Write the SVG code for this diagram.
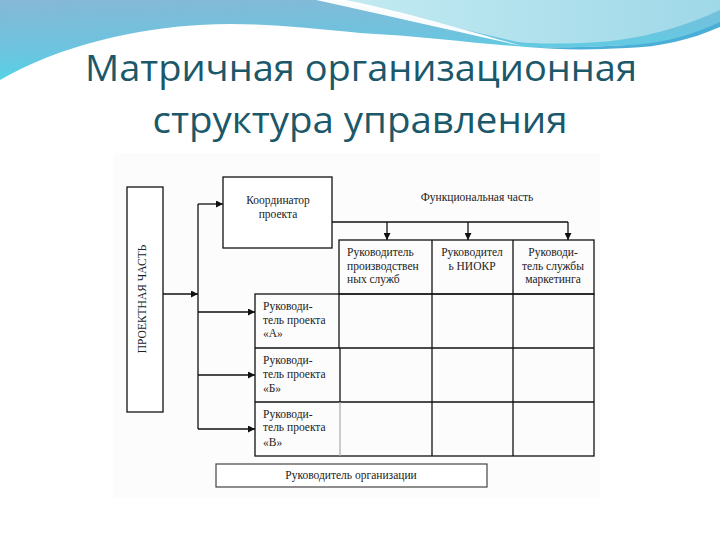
<svg xmlns="http://www.w3.org/2000/svg" width="720" height="540" viewBox="0 0 720 540">
  <defs>
    <linearGradient id="gBlue" x1="0" y1="0" x2="0.3" y2="1">
      <stop offset="0" stop-color="#86b8d6"/>
      <stop offset="0.6" stop-color="#6cc4df"/>
      <stop offset="1" stop-color="#4fd6e8"/>
    </linearGradient>
    <linearGradient id="gLight" x1="0" y1="0" x2="1" y2="0">
      <stop offset="0" stop-color="#c4ebf2"/>
      <stop offset="1" stop-color="#9fd8e8"/>
    </linearGradient>
    <marker id="arr" viewBox="0 0 8 8" refX="8" refY="4" markerWidth="7" markerHeight="7" markerUnits="userSpaceOnUse" orient="auto">
      <path d="M0,0 L8,4 L0,8 Z" fill="#111"/>
    </marker>
    <style>
      .title { font-family: "Open Sans", "Noto Sans", sans-serif; font-size: 37px; fill: #1b5869; text-anchor: middle; }
      .box { fill: #fff; stroke: #111; stroke-width: 1.3; }
      .grid { fill: none; stroke: #111; stroke-width: 1.3; }
      .conn { fill: none; stroke: #111; stroke-width: 1.3; }
      .t { font-family: "Liberation Serif", "Times New Roman", serif; font-size: 11.5px; fill: #222; }
      .c { text-anchor: middle; }
    </style>
  </defs>

  <rect width="720" height="540" fill="#ffffff"/>

  <!-- decorative wave -->
  <g id="decoration">
    <path d="M0,0 H720 V25 C690,38 660,45 627,45 C590,47 560,48 527,47 C480,44 420,36 360,33 C300,27 250,22 200,25 C140,28 60,45 0,80 Z" fill="url(#gBlue)"/>
    <path d="M330,0 H720 V10 C690,24 650,38 600,42 C565,44 535,44 518,42 C455,28 395,12 330,0 Z" fill="url(#gLight)"/>
    <path d="M316,0 C380,14 450,30 522,46 C452,26 392,9 346,0 Z" fill="#ffffff" opacity="0.95"/>
    <path d="M527,47 C560,48 590,47 627,45 C660,44 690,36 720,22 V27 C690,40 660,47 627,48 C590,50 560,50 527,47 Z" fill="#4aaed6"/>
  </g>

  <rect x="113" y="153" width="487" height="345" fill="#fcfcfc"/>

  <g id="title">
    <text class="title" x="361" y="81" textLength="552" lengthAdjust="spacingAndGlyphs">Матричная организационная</text>
    <text class="title" x="360" y="133" textLength="415" lengthAdjust="spacingAndGlyphs">структура управления</text>
  </g>

  <g id="connectors">
    <line class="conn" x1="198" y1="204" x2="198" y2="429"/>
    <line class="conn" x1="163" y1="294" x2="198" y2="294" marker-end="url(#arr)"/>
    <line class="conn" x1="198" y1="204" x2="223" y2="204" marker-end="url(#arr)"/>
    <line class="conn" x1="198" y1="312" x2="255" y2="312" marker-end="url(#arr)"/>
    <line class="conn" x1="198" y1="375" x2="255" y2="375" marker-end="url(#arr)"/>
    <line class="conn" x1="198" y1="429" x2="255" y2="429" marker-end="url(#arr)"/>
    <line class="conn" x1="332" y1="222" x2="568" y2="222"/>
    <line class="conn" x1="387" y1="222" x2="387" y2="240" marker-end="url(#arr)"/>
    <line class="conn" x1="468" y1="222" x2="468" y2="240" marker-end="url(#arr)"/>
    <line class="conn" x1="568" y1="222" x2="568" y2="240" marker-end="url(#arr)"/>
  </g>

  <g id="project-part">
    <rect class="box" x="127" y="187" width="36" height="225"/>
    <text class="t c" x="0" y="0" font-size="12" transform="translate(146,299) rotate(-90)">ПРОЕКТНАЯ ЧАСТЬ</text>
  </g>

  <g id="coordinator">
    <rect class="box" x="223" y="177" width="109" height="71"/>
    <text class="t c" x="278" y="204">Координатор</text>
    <text class="t c" x="278" y="218">проекта</text>
  </g>

  <g id="functional-part">
    <text class="t c" x="477" y="201">Функциональная часть</text>
  </g>

  <g id="matrix">
    <rect class="grid" x="339" y="240" width="255" height="54"/>
    <rect class="grid" x="255" y="294" width="339" height="162"/>
    <line class="grid" x1="432" y1="240" x2="432" y2="456"/>
    <line class="grid" x1="513" y1="240" x2="513" y2="456"/>
    <line class="grid" x1="255" y1="348" x2="594" y2="348"/>
    <line class="grid" x1="255" y1="402" x2="594" y2="402"/>
    <line class="grid" x1="339" y1="294" x2="339" y2="348"/>
    <line class="grid" x1="340" y1="348" x2="340" y2="402"/>
    <line x1="340" y1="402" x2="340" y2="456" stroke="#aaa" stroke-width="1.2"/>
  </g>

  <g id="head-production">
    <text class="t" x="347" y="256">Руководитель</text>
    <text class="t" x="347" y="270">производствен</text>
    <text class="t" x="347" y="283">ных служб</text>
  </g>

  <g id="head-rnd">
    <text class="t c" x="472" y="256">Руководител</text>
    <text class="t c" x="472" y="270">ь НИОКР</text>
  </g>

  <g id="head-marketing">
    <text class="t c" x="553" y="256">Руководи-</text>
    <text class="t c" x="553" y="270">тель службы</text>
    <text class="t c" x="553" y="283">маркетинга</text>
  </g>

  <g id="pm-a">
    <text class="t" x="263" y="310">Руководи-</text>
    <text class="t" x="263" y="324">тель проекта</text>
    <text class="t" x="263" y="337">«А»</text>
  </g>

  <g id="pm-b">
    <text class="t" x="263" y="364">Руководи-</text>
    <text class="t" x="263" y="378">тель проекта</text>
    <text class="t" x="263" y="392">«Б»</text>
  </g>

  <g id="pm-c">
    <text class="t" x="263" y="418">Руководи-</text>
    <text class="t" x="263" y="431">тель проекта</text>
    <text class="t" x="263" y="446">«В»</text>
  </g>

  <g id="org-head">
    <rect x="216" y="464" width="271" height="23" fill="#fff" stroke="#444" stroke-width="1.2"/>
    <text class="t c" x="351" y="479">Руководитель организации</text>
  </g>
</svg>
